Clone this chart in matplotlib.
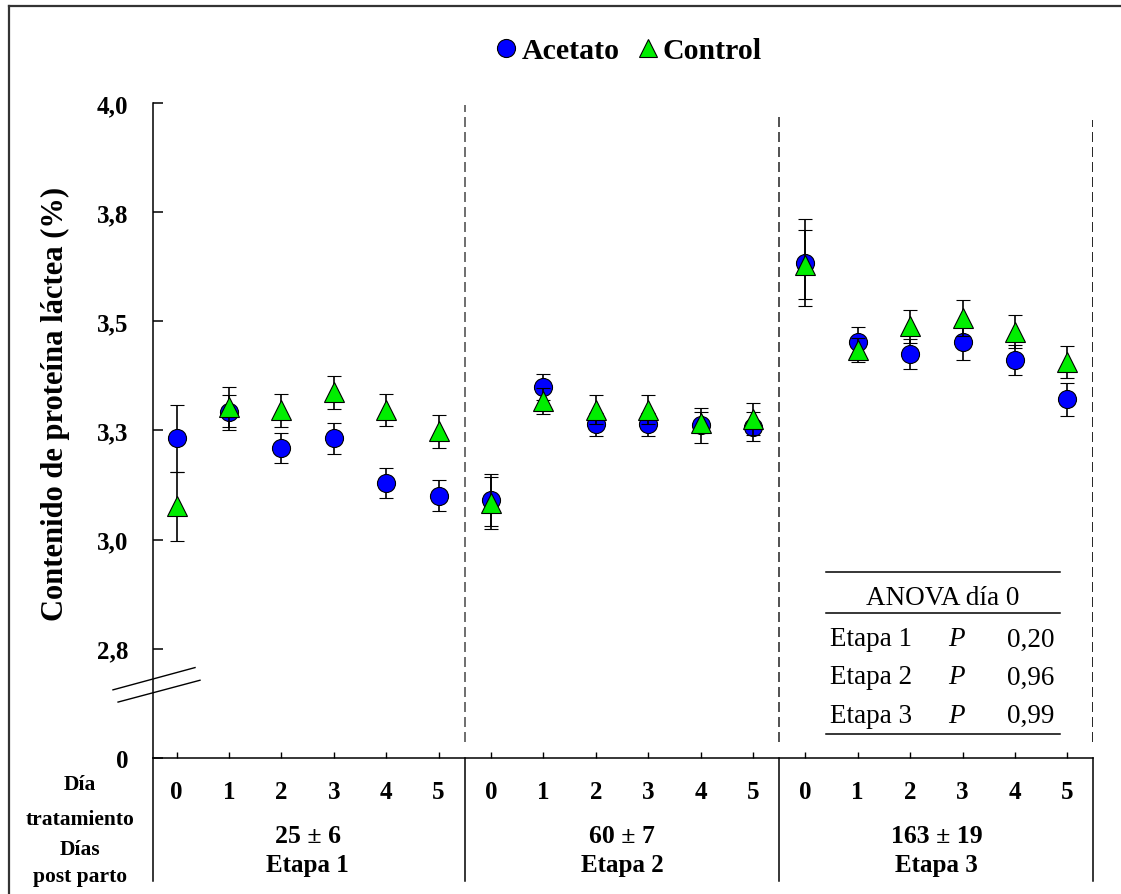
import numpy as np
import matplotlib
matplotlib.use("Agg")
import matplotlib.pyplot as plt
import matplotlib.transforms as mtransforms
from matplotlib.lines import Line2D

plt.rcParams['font.family'] = ['Liberation Serif', 'DejaVu Serif']

# --- data ---
days = ['0', '1', '2', '3', '4', '5']
stages = ['Etapa 1', 'Etapa 2', 'Etapa 3']
stage_dpp = ['25 ± 6', '60 ± 7', '163 ± 19']

acetato = [3.232, 3.292, 3.210, 3.232, 3.130, 3.101,
           3.091, 3.350, 3.264, 3.264, 3.262, 3.259,
           3.634, 3.453, 3.425, 3.452, 3.411, 3.321]
acetato_err = [0.077, 0.040, 0.035, 0.035, 0.035, 0.035,
               0.060, 0.030, 0.026, 0.026, 0.040, 0.034,
               0.100, 0.035, 0.034, 0.040, 0.035, 0.037]

control = [3.076, 3.304, 3.296, 3.337, 3.297, 3.248,
           3.084, 3.317, 3.298, 3.298, 3.268, 3.276,
           3.630, 3.434, 3.489, 3.508, 3.476, 3.407]
control_err = [0.078, 0.045, 0.037, 0.037, 0.036, 0.038,
               0.059, 0.030, 0.033, 0.033, 0.024, 0.036,
               0.078, 0.028, 0.038, 0.041, 0.038, 0.036]

ytick_vals = [2.5, 2.75, 3.0, 3.25, 3.5, 3.75, 4.0]
ytick_labels = ['0', '2,8', '3,0', '3,3', '3,5', '3,8', '4,0']

anova_rows = ['Etapa 1', 'Etapa 2', 'Etapa 3']
anova_p = ['0,20', '0,96', '0,99']

blue = '#0000FF'
green = '#00EE00'

fig = plt.figure(figsize=(11.21, 8.95), dpi=100)
ax = fig.add_axes([0.1365, 0.152, 0.8385, 0.7318])

x = np.arange(len(acetato))
ax.errorbar(x, acetato, yerr=acetato_err, fmt='o', ms=13, mfc=blue, mec='black',
            mew=0.8, ecolor='black', elinewidth=1.2, capsize=5, capthick=1.2, zorder=3)
ax.errorbar(x, control, yerr=control_err, fmt='^', ms=14, mfc=green,
            mec='black', mew=0.8, ecolor='black', elinewidth=1.2, capsize=5, capthick=1.2,
            zorder=4)

ax.set_xlim(-0.45, 17.49)
ax.set_ylim(2.5, 4.0)
ax.set_yticks(ytick_vals)
ax.set_yticklabels(ytick_labels, fontsize=18, fontweight='bold')
ax.set_xticks(x)
ax.set_xticklabels([])
ax.tick_params(axis='y', direction='in', length=7, width=1.1, pad=18)
ax.tick_params(axis='x', direction='in', length=4, width=1.0)
for s in ['top', 'right']:
    ax.spines[s].set_visible(False)
for s in ['left', 'bottom']:
    ax.spines[s].set_linewidth(1.1)

# stage separators
sep_x = [5.5, 11.5, 17.49]
sep_top = [3.995, 3.98, 3.96]
sep_col = ['#555555', '#333333', 'black']
for sx, st, sc in zip(sep_x, sep_top, sep_col):
    ax.plot([sx, sx], [2.537, st], ls=(0, (6, 3)), color=sc, lw=1.2)

# axis break marks
btrans = mtransforms.blended_transform_factory(ax.transAxes, ax.transData)
ax.plot([-0.0426, 0.0447], [2.656, 2.707], color='black', lw=1.0, transform=btrans, clip_on=False)
ax.plot([-0.0372, 0.050], [2.628, 2.678], color='black', lw=1.0, transform=btrans, clip_on=False)

# table under the x axis
xtrans = mtransforms.blended_transform_factory(ax.transData, ax.transAxes)
for vx in [-0.45, 5.5, 11.5, 17.49]:
    ax.plot([vx, vx], [0, -0.188], color='black', lw=1.1, transform=xtrans, clip_on=False)
for i, xi in enumerate(x):
    ax.text(xi, -0.051, days[i % 6], transform=xtrans, ha='center', va='center',
            fontsize=18, fontweight='bold')
for k in range(3):
    cx = 6 * k + 2.5
    ax.text(cx, -0.118, stage_dpp[k], transform=xtrans, ha='center', va='center',
            fontsize=18.5, fontweight='bold')
    ax.text(cx, -0.162, stages[k], transform=xtrans, ha='center', va='center',
            fontsize=18, fontweight='bold')

left_labels = ['Día', 'tratamiento', 'Días', 'post parto']
left_y = [-0.040, -0.093, -0.139, -0.180]
for lab, ly in zip(left_labels, left_y):
    ax.text(-0.078, ly, lab, transform=ax.transAxes, ha='center', va='center',
            fontsize=15.5, fontweight='bold')

# ANOVA box
for ly in [0.2835, 0.2214, 0.0366]:
    ax.plot([0.716, 0.965], [ly, ly], color='black', lw=1.1, transform=ax.transAxes)
ax.text(0.840, 0.2453, 'ANOVA día 0', transform=ax.transAxes, ha='center', va='center',
        fontsize=19.5)
for lab, pv, ry in zip(anova_rows, anova_p, [0.1817, 0.1237, 0.0646]):
    ax.text(0.720, ry, lab, transform=ax.transAxes, ha='left', va='center', fontsize=19.5)
    ax.text(0.855, ry, 'P', transform=ax.transAxes, ha='center', va='center', fontsize=19.5,
            style='italic')
    ax.text(0.959, ry, pv, transform=ax.transAxes, ha='right', va='center', fontsize=19.5)

# y label
fig.text(55 / 1121, 0.549, 'Contenido de proteína láctea (%)', rotation=90, ha='center',
         va='center', fontsize=22, fontweight='bold')

# legend
handles = [Line2D([], [], marker='o', ls='', mfc=blue, mec='black', ms=13, mew=0.8),
           Line2D([], [], marker='^', ls='', mfc=green, mec='black', ms=13, mew=0.8)]
fig.legend(handles, ['Acetato', 'Control'], loc='center', bbox_to_anchor=(0.559, 0.942),
           ncol=2, frameon=False, prop={'size': 21.5, 'weight': 'bold'},
           handletextpad=0.0, columnspacing=0.45, handlelength=1.0)

# outer frame (left and top edges visible)
fig.add_artist(Line2D([9 / 1121, 9 / 1121], [0, 1 - 7 / 895], color='#333333', lw=1.6,
                      transform=fig.transFigure))
fig.add_artist(Line2D([9 / 1121, 1], [1 - 7 / 895, 1 - 7 / 895], color='#333333', lw=1.6,
                      transform=fig.transFigure))

fig.savefig('out.png', dpi=100)
